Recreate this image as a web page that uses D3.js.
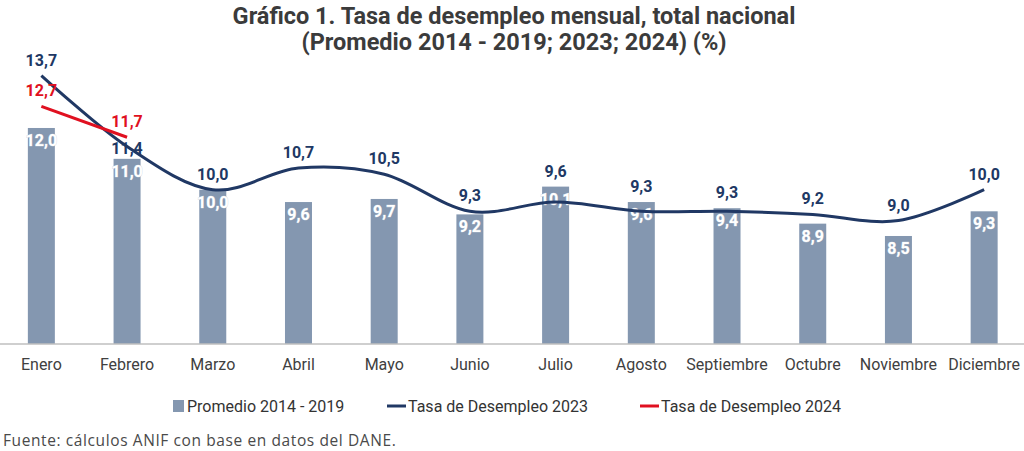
<!DOCTYPE html>
<html>
<head>
<meta charset="utf-8">
<script src="https://cdn.jsdelivr.net/npm/d3@7"></script>
<style>
  body { margin: 0; background: #fff; }
  svg { display: block; }
  .narrow { font-family: Roboto, "Liberation Sans", sans-serif; }
</style>
</head>
<body>
<div id="chart"></div>
<script>
var months = ["Enero", "Febrero", "Marzo", "Abril", "Mayo", "Junio", "Julio",
              "Agosto", "Septiembre", "Octubre", "Noviembre", "Diciembre"];
var promedio = [12.0, 11.0, 10.0, 9.6, 9.7, 9.2, 10.1, 9.6, 9.4, 8.9, 8.5, 9.3];
var tasa2023 = [13.7, 11.4, 10.0, 10.7, 10.5, 9.3, 9.6, 9.3, 9.3, 9.2, 9.0, 10.0];
var tasa2024 = [12.7, 11.7];

var W = 1024, H = 451;
var fmt = function(v) { return d3.format(".1f")(v).replace(".", ","); };

var svg = d3.select("#chart").append("svg")
    .attr("width", W).attr("height", H)
    .attr("class", "narrow");

var x = d3.scaleBand().domain(months).range([-1.5, 1027]);
var y = d3.scaleLinear().domain([5, 14]).range([344, 344 - 9 * 30.86]);
var barW = 27;
var cx = function(m) { return x(m) + x.bandwidth() / 2; };

// title
var title = svg.append("text")
    .attr("text-anchor", "middle")
    .attr("font-weight", "bold")
    .attr("font-size", 23.5)
    .attr("fill", "#3b3b3b");
title.append("tspan").attr("x", 514).attr("y", 24)
    .text("Gráfico 1. Tasa de desempleo mensual, total nacional");
title.append("tspan").attr("x", 514).attr("y", 50)
    .text("(Promedio 2014 - 2019; 2023; 2024) (%)");

// bars
svg.append("g").selectAll("rect")
    .data(promedio)
    .enter()
    .append("rect")
    .attr("x", function(d, i) { return cx(months[i]) - barW / 2; })
    .attr("y", function(d) { return y(d); })
    .attr("width", barW)
    .attr("height", function(d) { return y(5) - y(d); })
    .attr("fill", "#8497b0");

// x axis
var xAxis = svg.append("g")
    .attr("transform", "translate(0," + y(5) + ")")
    .call(d3.axisBottom(x).tickSize(0).tickPadding(15));
xAxis.select(".domain").attr("stroke", "#bfbfbf").attr("stroke-width", 1.5)
    .attr("d", "M0,0H" + W);
xAxis.selectAll("text")
    .attr("font-family", "Roboto, sans-serif")
    .attr("font-size", 16)
    .attr("fill", "#404040");

// bar labels
svg.append("g").selectAll("text")
    .data(promedio)
    .enter()
    .append("text")
    .attr("x", function(d, i) { return cx(months[i]); })
    .attr("y", function(d) { return y(d) + 18; })
    .attr("text-anchor", "middle")
    .attr("font-size", 16)
    .attr("font-weight", "bold")
    .attr("fill", "#fff")
    .attr("stroke", "#c9d1dc")
    .attr("stroke-width", 0.6)
    .attr("paint-order", "stroke")
    .text(function(d) { return fmt(d); });

// lines
var line = d3.line()
    .x(function(d, i) { return cx(months[i]); })
    .y(function(d) { return y(d); });

svg.append("path")
    .datum(tasa2023)
    .attr("d", line.curve(d3.curveCardinal.tension(0)))
    .attr("fill", "none")
    .attr("stroke", "#203864")
    .attr("stroke-width", 3);

svg.append("path")
    .datum(tasa2024)
    .attr("d", line.curve(d3.curveLinear))
    .attr("fill", "none")
    .attr("stroke", "#e01020")
    .attr("stroke-width", 3);

// 2023 labels: above the higher of point and bar; centred on the point when a 2024 label sits above
svg.append("g").selectAll("text")
    .data(tasa2023)
    .enter()
    .append("text")
    .attr("x", function(d, i) { return cx(months[i]); })
    .attr("y", function(d, i) {
      if (i < tasa2024.length && i > 0) return y(d) + 8;
      return Math.min(y(d), y(promedio[i])) - 10;
    })
    .attr("text-anchor", "middle")
    .attr("font-size", 16)
    .attr("font-weight", "bold")
    .attr("fill", "#203864")
    .text(function(d) { return fmt(d); });

// 2024 labels
svg.append("g").selectAll("text")
    .data(tasa2024)
    .enter()
    .append("text")
    .attr("x", function(d, i) { return cx(months[i]); })
    .attr("y", function(d) { return y(d) - 10; })
    .attr("text-anchor", "middle")
    .attr("font-size", 16)
    .attr("font-weight", "bold")
    .attr("fill", "#e01020")
    .text(function(d) { return fmt(d); });

// legend
var legend = svg.append("g").attr("font-size", 16).attr("fill", "#333");
var legItems = [
  {label: "Promedio 2014 - 2019", type: "bar", color: "#8497b0", x: 173},
  {label: "Tasa de Desempleo 2023", type: "line", color: "#203864", x: 387},
  {label: "Tasa de Desempleo 2024", type: "line", color: "#e01020", x: 640}
];
legItems.forEach(function(it) {
  if (it.type === "bar") {
    legend.append("rect").attr("x", it.x).attr("y", 400).attr("width", 11).attr("height", 12)
        .attr("fill", it.color);
    legend.append("text").attr("x", it.x + 14).attr("y", 412).text(it.label);
  } else {
    legend.append("line").attr("x1", it.x).attr("x2", it.x + 19)
        .attr("y1", 406).attr("y2", 406)
        .attr("stroke", it.color).attr("stroke-width", 3);
    legend.append("text").attr("x", it.x + 21).attr("y", 412).text(it.label);
  }
});

// source
svg.append("text")
    .attr("x", 3).attr("y", 446)
    .attr("font-family", "Open Sans, sans-serif")
    .attr("font-size", 15.5)
    .attr("letter-spacing", 0.6)
    .attr("fill", "#4a4a4a")
    .text("Fuente: cálculos ANIF con base en datos del DANE.");
</script>
</body>
</html>
